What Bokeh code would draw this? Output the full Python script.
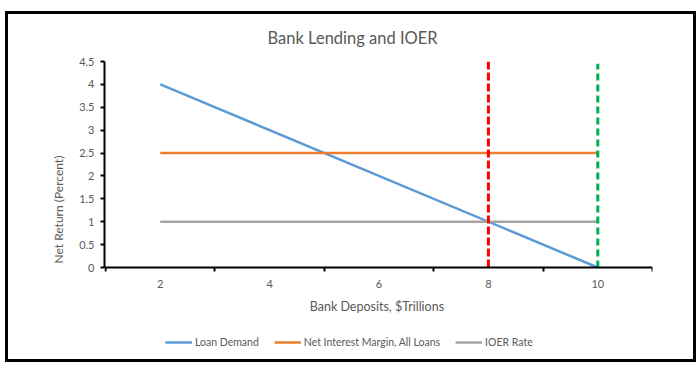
from bokeh.plotting import figure
from bokeh.models import Range1d, FixedTicker, Legend, LegendItem
from bokeh.layouts import column
from bokeh.embed import file_html
from bokeh.resources import INLINE

# ---- data ----
deposits = [2, 10]
loan_demand = [4, 0]
net_interest_margin = [2.5, 2.5]
ioer_rate = [1, 1]
red_line_x = [8, 8]
red_line_y = [0, 4.5]
green_line_x = [10, 10]
green_line_y = [0, 4.45]
x_tick_labels = [2, 4, 6, 8, 10]
x_tick_marks = [1, 3, 5, 7, 9, 11]
y_ticks = [0, 0.5, 1, 1.5, 2, 2.5, 3, 3.5, 4, 4.5]
y_tick_labels = ["0", "0.5", "1", "1.5", "2", "2.5", "3", "3.5", "4", "4.5"]

FONT = "Lato"
GREY = "#595959"

p = figure(width=685, height=345, output_backend="svg", toolbar_location=None,
           x_range=Range1d(0.98, 11), y_range=Range1d(-1.9, 4.5),
           min_border_left=96, min_border_right=41, min_border_top=47, min_border_bottom=5)
p.title.text = "Bank Lending and IOER"
p.title.align = "left"
p.title.text_font = FONT
p.title.text_font_size = "16.5px"
p.title.text_font_style = "normal"
p.title.text_color = GREY
p.title.offset = 163
p.title.standoff = 24
p.title.vertical_align = "top"

p.xgrid.visible = False
p.ygrid.visible = False
p.outline_line_color = None

ld = p.line(deposits, loan_demand, line_color="#5B9BD5", line_width=2.5)
nim = p.line(deposits, net_interest_margin, line_color="#ED7D31", line_width=2.5)
ioer = p.line(deposits, ioer_rate, line_color="#A5A5A5", line_width=2.5)
p.line(red_line_x, red_line_y, line_color="#FF0000", line_width=3, line_dash="8 3")
p.line(green_line_x, green_line_y, line_color="#00B050", line_width=3, line_dash="7 4")

xa = p.xaxis[0]
xa.fixed_location = 0
xa.ticker = FixedTicker(ticks=x_tick_labels, minor_ticks=x_tick_marks)
xa.major_tick_line_color = None
xa.minor_tick_line_color = "black"
xa.minor_tick_line_width = 2
xa.minor_tick_out = 4
xa.minor_tick_in = 0
xa.axis_line_color = "black"
xa.axis_line_width = 2
xa.major_label_text_font = FONT
xa.major_label_text_font_size = "11px"
xa.major_label_text_color = GREY
xa.major_label_standoff = 6
xa.axis_label = "Bank Deposits,  $Trillions"
xa.axis_label_text_font = FONT
xa.axis_label_text_font_size = "12.5px"
xa.axis_label_text_font_style = "normal"
xa.axis_label_text_color = GREY
xa.axis_label_standoff = 8

ya = p.yaxis[0]
ya.bounds = (0, 4.5)
ya.ticker = FixedTicker(ticks=y_ticks, minor_ticks=[])
ya.major_label_overrides = {t: lab for t, lab in zip(y_ticks, y_tick_labels)}
ya.major_tick_line_color = "black"
ya.major_tick_line_width = 2
ya.major_tick_out = 4
ya.major_tick_in = 0
ya.axis_line_color = "black"
ya.axis_line_width = 2
ya.major_label_text_font = FONT
ya.major_label_text_font_size = "11px"
ya.major_label_text_color = GREY
ya.major_label_standoff = 6
ya.axis_label = "Net Return  (Percent)"
ya.axis_label_text_font = FONT
ya.axis_label_text_font_size = "12px"
ya.axis_label_text_font_style = "normal"
ya.axis_label_text_color = GREY
ya.axis_label_standoff = 10

legend = Legend(items=[
    LegendItem(label="Loan Demand", renderers=[ld]),
    LegendItem(label="Net Interest Margin, All Loans", renderers=[nim]),
    LegendItem(label="IOER Rate", renderers=[ioer]),
], orientation="horizontal", location=(61, 2))
legend.label_text_font = FONT
legend.label_text_font_size = "10.5px"
legend.label_text_color = GREY
legend.glyph_width = 27
legend.label_standoff = 3
legend.spacing = 15
legend.padding = 0
legend.margin = 0
legend.border_line_color = None
legend.background_fill_alpha = 0
p.add_layout(legend, "center")

layout = column(p, styles={"border": "3px solid black"}, margin=(11, 0, 0, 5))

open("out.html", "w").write(file_html(layout, INLINE))
